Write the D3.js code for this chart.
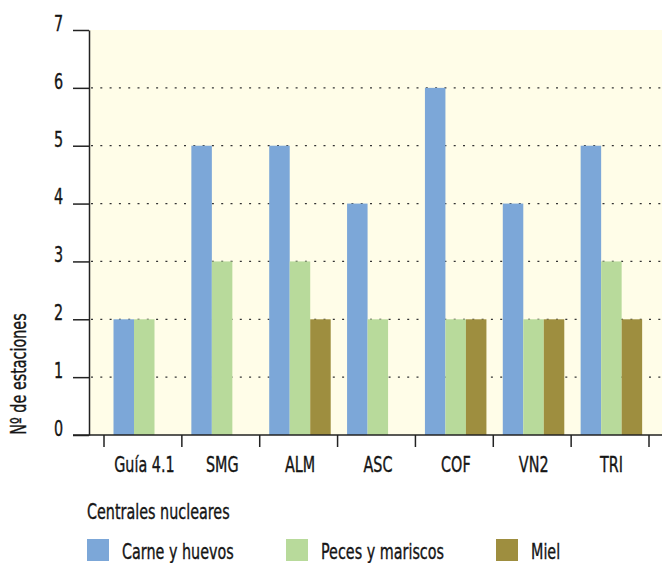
<!DOCTYPE html>
<html>
<head>
<meta charset="utf-8">
<script src="https://cdn.jsdelivr.net/npm/d3@7/dist/d3.min.js"></script>
<style>
  html, body { margin: 0; padding: 0; background: #fff; }
  svg { display: block; }
  text { font-family: "DejaVu Sans Condensed", "DejaVu Sans", sans-serif; font-stretch: condensed; fill: #151515; stroke: #151515; stroke-width: 0.35px; }
</style>
</head>
<body>
<svg id="chart" width="662" height="563"></svg>
<script>
const categories = ["Guía 4.1", "SMG", "ALM", "ASC", "COF", "VN2", "TRI"];
const seriesNames = ["Carne y huevos", "Peces y mariscos", "Miel"];
const carne = [2, 5, 5, 4, 6, 4, 5];
const peces = [2, 3, 3, 2, 2, 2, 3];
const miel = [0, 0, 2, 0, 2, 2, 2];
const yTicks = [0, 1, 2, 3, 4, 5, 6, 7];
const colors = ["#7ca7d8", "#b8da9b", "#9e8e3f"];
const seriesValues = [carne, peces, miel];

const SX = 0.76;      // horizontal compression to mimic a condensed face
const FS = "21px";

const svg = d3.select("#chart");
const plot = { left: 89, right: 662, top: 30, bottom: 435 };

const y = d3.scaleLinear().domain([0, 7]).range([plot.bottom, plot.top]);
const x = d3.scaleBand().domain(categories).range([104, 649]).padding(0);
const xInner = d3.scaleBand().domain(seriesNames).range([9.5, 71]).padding(0);

function label(parent, tx, ty, str, anchor, rot) {
  return parent.append("text")
    .attr("transform", `translate(${tx},${ty})` + (rot ? ` rotate(${rot})` : "") + ` scale(${SX},1)`)
    .attr("text-anchor", anchor || "start")
    .style("font-size", FS)
    .text(str);
}

// background
svg.append("rect")
  .attr("x", plot.left).attr("y", plot.top)
  .attr("width", plot.right - plot.left).attr("height", plot.bottom - plot.top)
  .attr("fill", "#fffde8");

// gridlines
svg.append("g").selectAll("line")
  .data(yTicks.filter(t => t > 0 && t < 7))
  .join("line")
  .attr("x1", plot.left + 2).attr("x2", plot.right)
  .attr("y1", d => y(d)).attr("y2", d => y(d))
  .attr("stroke", "#333").attr("stroke-width", 1.3)
  .attr("stroke-dasharray", "2,7.3");

// bars
const rows = [];
categories.forEach((c, ci) => {
  seriesNames.forEach((s, si) => {
    const v = seriesValues[si][ci];
    if (v > 0) rows.push({ c, s, v, si });
  });
});
svg.append("g").selectAll("rect")
  .data(rows)
  .join("rect")
  .attr("x", d => x(d.c) + xInner(d.s))
  .attr("y", d => y(d.v))
  .attr("width", xInner.bandwidth())
  .attr("height", d => y(0) - y(d.v))
  .attr("fill", d => colors[d.si]);

// y axis
const yAxis = d3.axisLeft(y).tickValues(yTicks).tickFormat(d3.format("d"))
  .tickSize(16).tickPadding(10).tickSizeOuter(0);
const gy = svg.append("g").attr("transform", `translate(${plot.left},0)`).call(yAxis);
gy.select(".domain").attr("stroke", "#222").attr("stroke-width", 1.5);
gy.selectAll(".tick line").attr("stroke", "#222").attr("stroke-width", 1.5);
gy.selectAll(".tick text")
  .style("font-size", "21px")
  .attr("x", -26 / SX)
  .attr("dy", "0.02em")
  .attr("transform", `scale(${SX},1)`);

// x axis line
svg.append("line")
  .attr("x1", 73).attr("x2", plot.right)
  .attr("y1", plot.bottom).attr("y2", plot.bottom)
  .attr("stroke", "#222").attr("stroke-width", 1.5);

// x ticks at band boundaries
const boundaries = categories.map(c => x(c)).concat([x(categories[categories.length - 1]) + x.bandwidth()]);
svg.append("g").selectAll("line")
  .data(boundaries)
  .join("line")
  .attr("x1", d => d).attr("x2", d => d)
  .attr("y1", plot.bottom).attr("y2", plot.bottom + 12)
  .attr("stroke", "#222").attr("stroke-width", 1.5);

// x labels
const gx = svg.append("g");
categories.forEach(c => label(gx, x(c) + x.bandwidth() / 2 + 1.5, 472, c, "middle"));

// y title
label(svg, 26, 374, "Nº de estaciones", "middle", -90);

// legend
label(svg, 87, 519, "Centrales nucleares", "start");

const legendX = [87, 286, 496];
seriesNames.forEach((s, i) => {
  const g = svg.append("g").attr("transform", `translate(${legendX[i]},539)`);
  g.append("rect").attr("width", 22).attr("height", 22).attr("fill", colors[i]);
  label(g, 35, 20, s, "start");
});
</script>
</body>
</html>
